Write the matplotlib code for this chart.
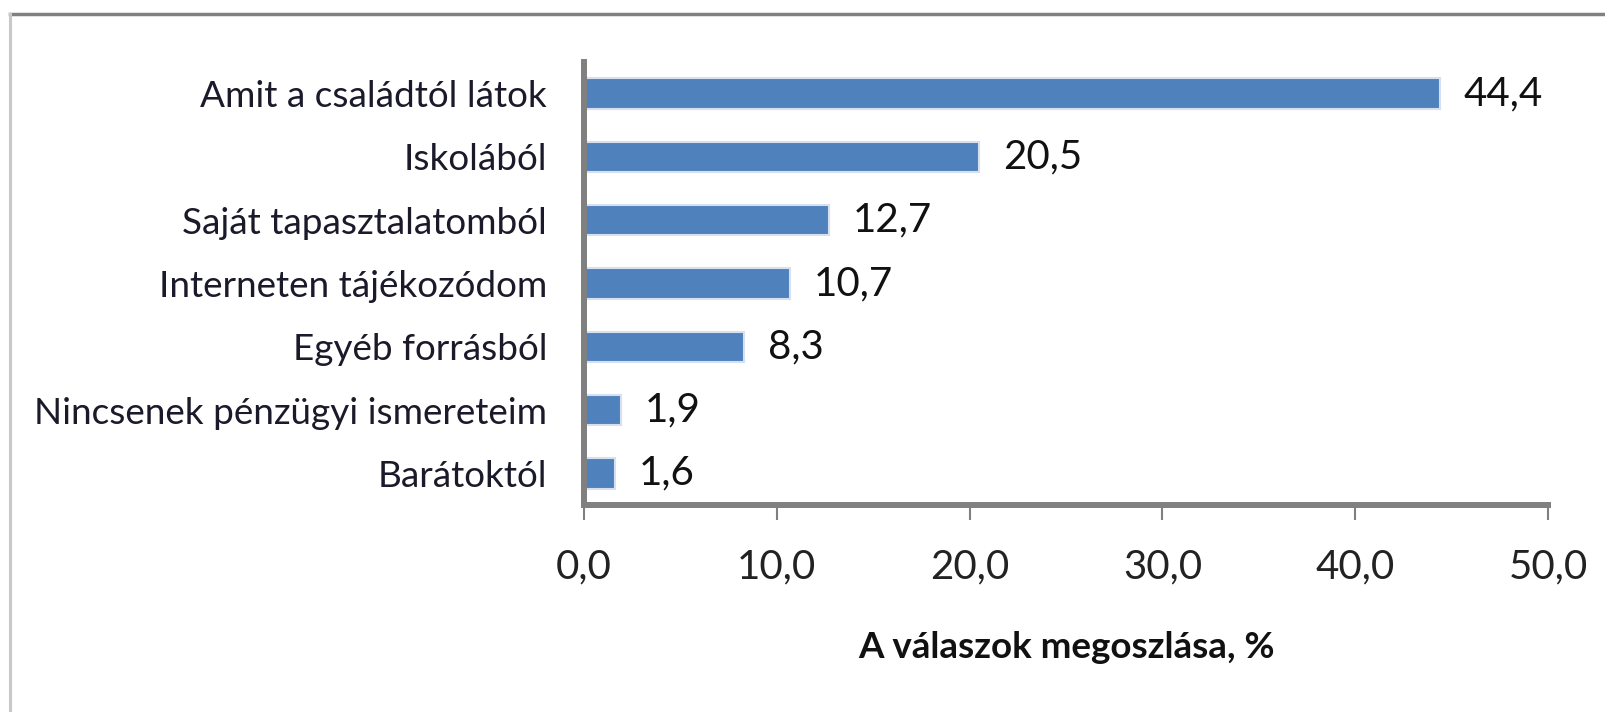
import matplotlib
matplotlib.use('Agg')
import matplotlib.pyplot as plt
from matplotlib.lines import Line2D

plt.rcParams['font.family'] = ['Lato', 'DejaVu Sans']

# Data (top to bottom as in the chart)
categories = ['Amit a családtól látok', 'Iskolából', 'Saját tapasztalatomból',
              'Interneten tájékozódom', 'Egyéb forrásból',
              'Nincsenek pénzügyi ismereteim', 'Barátoktól']
values = [44.4, 20.5, 12.7, 10.7, 8.3, 1.9, 1.6]
x_ticks = [0, 10, 20, 30, 40, 50]
x_label = 'A válaszok megoszlása, %'

bar_color = '#4f81bd'
axis_gray = '#808080'
fs = 29

fig = plt.figure(figsize=(16.05, 7.12), dpi=100)
ax = fig.add_axes([584 / 1605, 1 - 505 / 712, (1548 - 584) / 1605, (505 - 62) / 712])

ypos = list(range(len(categories)))[::-1]
ax.barh(ypos, values, height=0.48, color=bar_color, edgecolor='#d6e0ee', linewidth=1.5)

for y, v in zip(ypos, values):
    ax.annotate(f'{v:.1f}'.replace('.', ','), xy=(v, y), xytext=(17, 0),
                textcoords='offset points', va='center', ha='left',
                fontsize=fs, color='#111111')

ax.set_xlim(0, 50)
ax.set_ylim(-0.5, len(categories) - 0.5)
ax.set_xticks(x_ticks)
ax.set_xticklabels([f'{t:.1f}'.replace('.', ',') for t in x_ticks])
ax.set_yticks(ypos)
ax.set_yticklabels(categories)

ax.tick_params(axis='x', direction='out', length=11, width=1.5, color=axis_gray,
               pad=20, labelsize=fs, labelcolor='#222222')
ax.tick_params(axis='y', length=0, pad=26.5, labelsize=26.6, labelcolor='#1a1a2a')

for side in ['top', 'right']:
    ax.spines[side].set_visible(False)
for side in ['left', 'bottom']:
    ax.spines[side].set_color(axis_gray)
    ax.spines[side].set_linewidth(4.3)

ax.set_xlabel(x_label, fontsize=26.5, fontweight='bold', labelpad=33, color='#111111')

# chart border lines (top dark, left light)
fig.add_artist(Line2D([10 / 1605, 1], [1 - 14 / 712, 1 - 14 / 712],
                      transform=fig.transFigure, color=axis_gray, linewidth=2.5))
fig.add_artist(Line2D([10 / 1605, 10 / 1605], [0, 1 - 14 / 712],
                      transform=fig.transFigure, color='#c8c8c8', linewidth=2.2))

fig.savefig('out.png', dpi=100)
